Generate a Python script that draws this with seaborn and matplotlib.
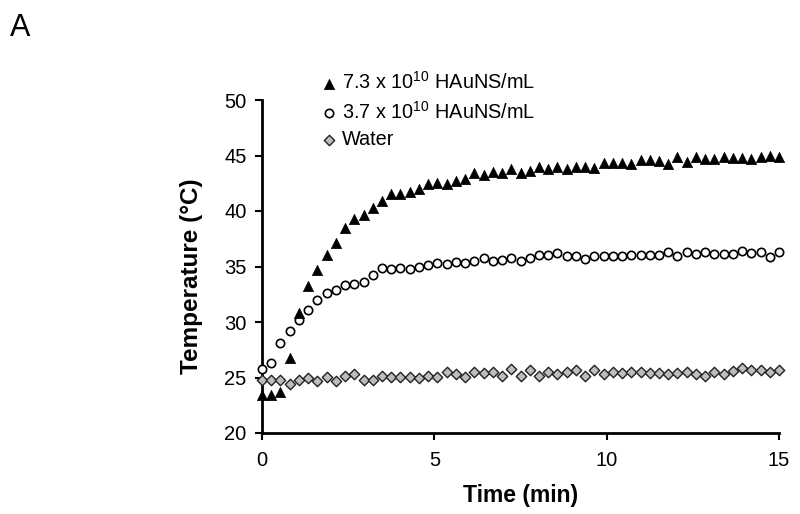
import numpy as np
import pandas as pd
import matplotlib
matplotlib.use("Agg")
import matplotlib.pyplot as plt
import seaborn as sns

# ---- data ----
n_points = 57
time_min = list(np.linspace(0, 15, n_points))

temp_high = [23.4, 23.4, 23.7, 26.8, 30.8, 33.2, 34.7, 36.05, 37.1, 38.5,
             39.25, 39.6, 40.3, 40.9, 41.5, 41.5, 41.7, 42.0, 42.4, 42.5,
             42.4, 42.7, 42.9, 43.4, 43.2, 43.5, 43.4, 43.77, 43.4, 43.6,
             43.98, 43.8, 44.0, 43.8, 44.0, 44.0, 43.9, 44.3, 44.3, 44.3,
             44.2, 44.6, 44.6, 44.5, 44.2, 44.9, 44.4, 44.9, 44.7, 44.7,
             44.9, 44.8, 44.8, 44.7, 44.9, 45.0, 44.9]

temp_low = [25.75, 26.3, 28.1, 29.2, 30.2, 31.1, 32.0, 32.6, 32.9, 33.3,
            33.4, 33.6, 34.2, 34.85, 34.75, 34.85, 34.75, 35.0, 35.1, 35.3,
            35.2, 35.4, 35.3, 35.5, 35.75, 35.5, 35.6, 35.79, 35.48, 35.79,
            36.06, 36.0, 36.24, 35.91, 35.91, 35.64, 35.91, 35.91, 35.91, 35.91,
            36.0, 36.0, 36.0, 36.0, 36.3, 35.91, 36.3, 36.15, 36.3, 36.15,
            36.1, 36.1, 36.36, 36.2, 36.3, 35.9, 36.3]

temp_water = [24.76, 24.8, 24.8, 24.4, 24.76, 24.94, 24.64, 25.06, 24.7, 25.15,
              25.3, 24.8, 24.8, 25.15, 25.06, 25.06, 25.06, 24.94, 25.15, 25.06,
              25.54, 25.3, 25.06, 25.54, 25.42, 25.54, 25.15, 25.75, 25.15, 25.66,
              25.17, 25.51, 25.29, 25.51, 25.66, 25.11, 25.66, 25.29, 25.48, 25.42,
              25.51, 25.51, 25.42, 25.42, 25.36, 25.42, 25.51, 25.36, 25.14, 25.51,
              25.36, 25.57, 25.82, 25.66, 25.66, 25.51, 25.66]

labels = ["7.3 x 10$^{10}$ HAuNS/mL", "3.7 x 10$^{10}$ HAuNS/mL", "Water"]
x_ticks = [0, 5, 10, 15]
y_ticks = [20, 25, 30, 35, 40, 45, 50]

# ---- style ----
sns.set_theme(style="white")
plt.rcParams["font.family"] = ["Liberation Sans", "DejaVu Sans"]
plt.rcParams["mathtext.fontset"] = "custom"
plt.rcParams["mathtext.rm"] = "Liberation Sans"
plt.rcParams["mathtext.it"] = "Liberation Sans"
plt.rcParams["mathtext.bf"] = "Liberation Sans:bold"
plt.rcParams["text.color"] = "black"
plt.rcParams["axes.labelcolor"] = "black"

W, H = 800, 514
fig = plt.figure(figsize=(W / 100, H / 100), dpi=100)
ax = fig.add_axes([262 / W, 1 - 433 / H, (779 - 262) / W, (433 - 100) / H])

df_w = pd.DataFrame({"t": time_min, "T": temp_water})
df_l = pd.DataFrame({"t": time_min, "T": temp_low})
df_h = pd.DataFrame({"t": time_min, "T": temp_high})

sns.scatterplot(data=df_w, x="t", y="T", ax=ax, marker="D", s=28,
                color="#bdbdbd", edgecolor="#222222", linewidth=1.0,
                label=labels[2], clip_on=False, zorder=3)
sns.scatterplot(data=df_l, x="t", y="T", ax=ax, marker="o", s=36,
                color="white", edgecolor="black", linewidth=1.2,
                label=labels[1], clip_on=False, zorder=4)
sns.scatterplot(data=df_h, x="t", y="T", ax=ax, marker="^", s=55,
                color="black", edgecolor="black", linewidth=0.5,
                label=labels[0], clip_on=False, zorder=5)

ax.set_xlim(0, 15)
ax.set_ylim(20, 50)
ax.set_xticks(x_ticks)
ax.set_yticks(y_ticks)
ax.tick_params(axis="both", which="major", direction="out", length=5,
               width=1.5, color="black", labelsize=14.5, labelcolor="black",
               left=True, bottom=True)
ax.tick_params(axis="x", pad=8)
ax.tick_params(axis="y", pad=6)
for side in ["top", "right"]:
    ax.spines[side].set_visible(False)
for side in ["left", "bottom"]:
    ax.spines[side].set_linewidth(2)
    ax.spines[side].set_color("black")

ax.set_xlabel("Time (min)", fontsize=16.5, fontweight="bold", labelpad=10,
              color="black")
ax.set_ylabel("Temperature (°C)", fontsize=17.5, fontweight="bold",
              color="black")
ax.yaxis.set_label_coords(-0.114, 0.47)

handles, lbls = ax.get_legend_handles_labels()
order = [lbls.index(l) for l in labels]
leg = ax.legend([handles[i] for i in order], [lbls[i] for i in order],
                loc="upper left", bbox_to_anchor=(318 / W, 1 - 71 / H),
                bbox_transform=fig.transFigure, frameon=False, fontsize=14.3,
                handletextpad=0.1, handlelength=1.1, borderpad=0,
                borderaxespad=0, labelspacing=0.38)
for txt in leg.get_texts():
    txt.set_color("black")

fig.text(10 / W, 1 - 36 / H, "A", fontsize=22, color="black", ha="left",
         va="baseline")

fig.savefig("out.png", dpi=100)
